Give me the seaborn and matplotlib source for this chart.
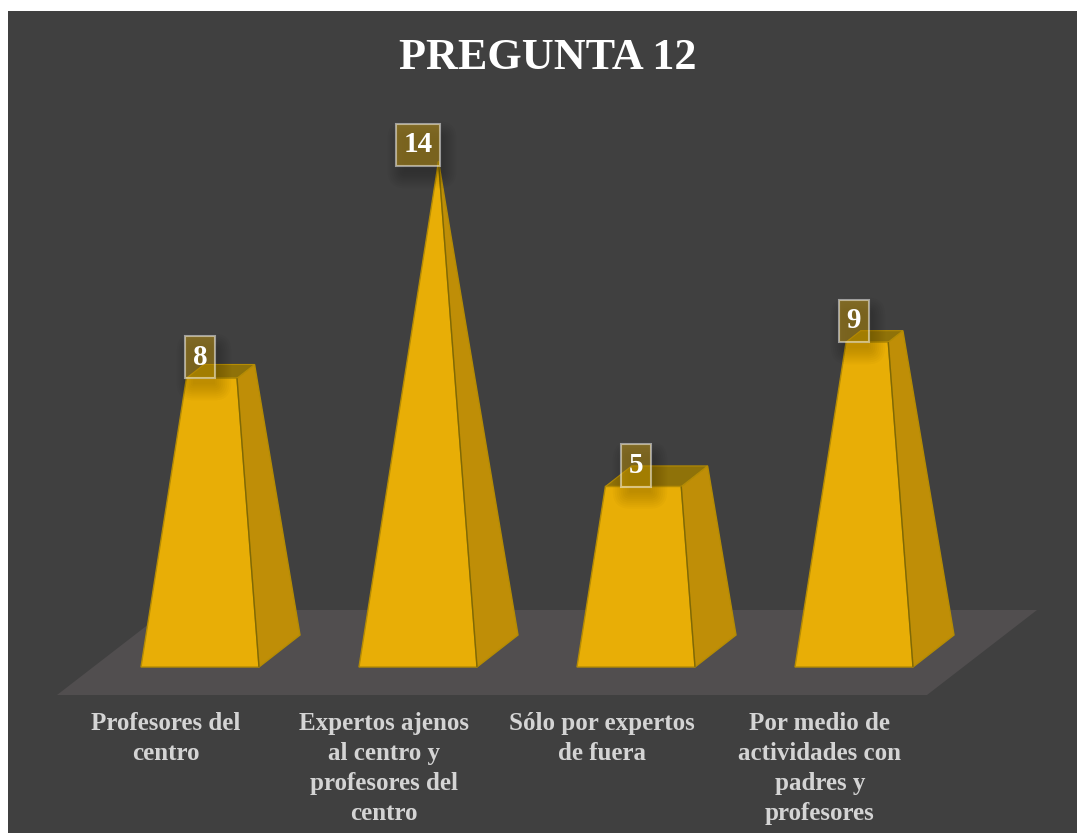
import matplotlib
matplotlib.use("Agg")
import matplotlib.pyplot as plt
import pandas as pd
import seaborn as sns
from matplotlib.patches import Polygon, Rectangle, FancyBboxPatch
from matplotlib.transforms import IdentityTransform

# ---------- data ----------
title = "PREGUNTA 12"
categories = ["Profesores del\ncentro",
              "Expertos ajenos\nal centro y\nprofesores del\ncentro",
              "Sólo por expertos\nde fuera",
              "Por medio de\nactividades con\npadres y\nprofesores"]
values = [8, 14, 5, 9]

# ---------- style ----------
W, H = 1077, 833
BG, FLOOR = "#404040", "#514E4F"
FRONT, SIDE, TOP = "#E8AE06", "#BF8E07", "#8F7209"
EDGE, DARK = "#B58C04", "#7F6806"
sns.set_theme(style="dark", rc={"axes.grid": False})
plt.rcParams["font.family"] = ["Liberation Serif", "DejaVu Serif"]
plt.rcParams["font.weight"] = "bold"

fig = plt.figure(figsize=(W / 100, H / 100), dpi=100, facecolor="white")
fig.patches.append(Rectangle((8 / W, 0), 1 - 8 / W, 1 - 11 / H, transform=fig.transFigure,
                             facecolor=BG, edgecolor="none", zorder=-5))
# axes from x 8..1077, y 11..695 in image pixels
ax = fig.add_axes([8 / W, (H - 695) / H, (W - 8) / W, (695 - 11) / H])
ax.patch.set_visible(False)

df = pd.DataFrame({"cat": categories, "val": values})
BAR_W = 118 / 218
sns.barplot(data=df, x="cat", y="val", color=FRONT, width=BAR_W, saturation=1, ax=ax, zorder=2)

# image pixel -> data scales
X0, XS, Y0, YS = 200, 218, 667, 36.1
px = lambda x: (x - X0) / XS
py = lambda y: (Y0 - y) / YS
ax.set_xlim(px(8), px(W))
ax.set_ylim(py(695), py(11))

for s in ax.spines.values():
    s.set_visible(False)
ax.set_xlabel("")
ax.set_ylabel("")
ax.set_yticks([])
LABEL_SHIFT = 34 / XS
ax.set_xticks([i - LABEL_SHIFT for i in range(len(categories))])
ax.set_xticklabels(categories, fontsize=18, color="#D4D4D4", fontweight="bold", linespacing=1.39)
ax.tick_params(axis="x", length=0, pad=12.5, bottom=False)

ax.set_title(title, x=(548 - 8) / (W - 8), y=(695 - 69) / 684, color="white",
             fontsize=31.8, fontweight="bold", va="baseline", pad=0)

# floor
ax.add_patch(Polygon([(px(57), py(695)), (px(927), py(695)), (px(1037), py(610)), (px(167), py(610))],
                     facecolor=FLOOR, edgecolor="none", zorder=0.5))

# pyramids: every frustum follows the value on the same scale
DX, DY = 41 / XS, 32 / YS
VMAX = max(values)
for i, (bar, v) in enumerate(zip(ax.patches, values)):
    cx = bar.get_x() + bar.get_width() / 2
    hw = bar.get_width() / 2
    apex = (cx + DX / 2, VMAX)
    t = v / VMAX
    lerp = lambda p: (p[0] + t * (apex[0] - p[0]), p[1] + t * (apex[1] - p[1]))
    fl, fr = (cx - hw, 0), (cx + hw, 0)
    bl, br = (cx - hw + DX, DY), (cx + hw + DX, DY)
    tfl, tfr, tbl, tbr = lerp(fl), lerp(fr), lerp(bl), lerp(br)
    ax.add_patch(Polygon([fr, br, tbr, tfr], facecolor=SIDE, edgecolor=EDGE, lw=1, zorder=1.5))
    ax.add_patch(Polygon([tfl, tfr, tbr, tbl], facecolor=TOP, edgecolor=EDGE, lw=0.8, zorder=1.5))
    trap = Polygon([fl, fr, tfr, tfl], facecolor="none", edgecolor=EDGE, lw=1, zorder=2.5,
                   transform=ax.transData)
    ax.add_patch(trap)
    bar.set_edgecolor("none")
    bar.set_clip_path(trap)
    ax.plot([fr[0], tfr[0]], [fr[1], tfr[1]], color=DARK, lw=1, zorder=2.6, solid_capstyle="butt")

# value labels with translucent boxes
labels = []
for i, v in enumerate(values):
    labels.append(ax.annotate(str(v), (i, v), xytext=(0, 5.5 - (v == VMAX) * 3.2), textcoords="offset points",
                              ha="center", va="bottom", color="white",
                              fontsize=21, fontweight="bold", zorder=5,
                              bbox=dict(boxstyle="square,pad=0.27", facecolor=(0.91, 0.69, 0.02, 0.40),
                                        edgecolor=(1, 1, 1, 0.5), lw=1.5)))
fig.canvas.draw()
for lab in labels:
    bb = lab.get_bbox_patch().get_window_extent()
    for k in range(0, 18, 2):
        ax.add_patch(FancyBboxPatch((bb.x0 + 8 - k, bb.y0 - 6 - k), bb.width + 2 * k - 8, bb.height + 2 * k - 8,
                                    boxstyle="round,pad=0,rounding_size=%d" % (k + 1),
                                    transform=IdentityTransform(), facecolor="black",
                                    edgecolor="none", alpha=0.018, zorder=4, clip_on=False))

fig.savefig("out.png", dpi=100, facecolor=fig.get_facecolor())
